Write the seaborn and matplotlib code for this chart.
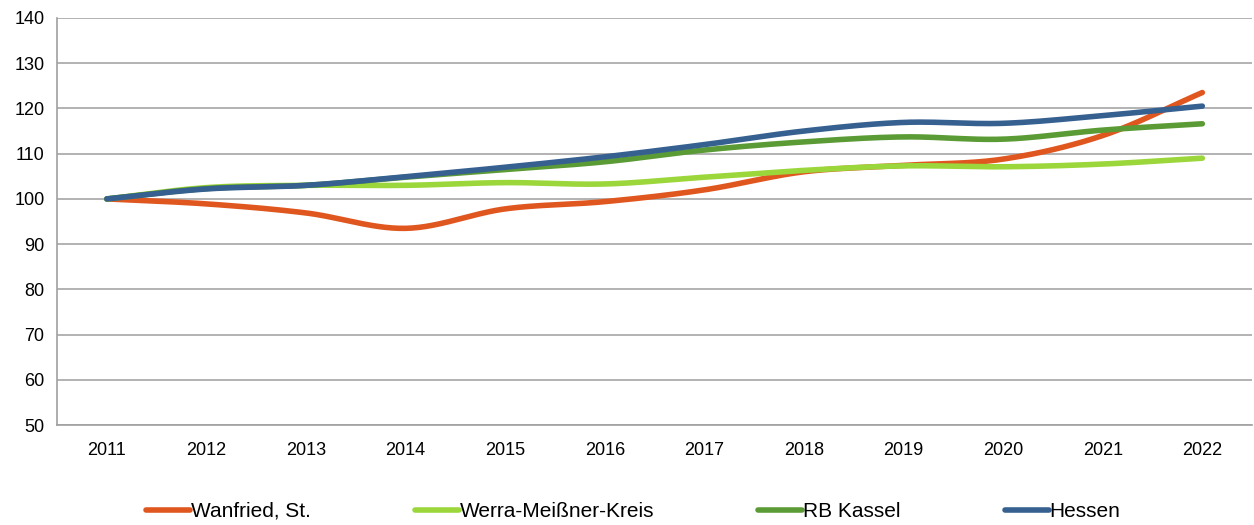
import numpy as np
import pandas as pd
import seaborn as sns
import matplotlib.pyplot as plt

# Index values (2011 = 100)
years = [2011, 2012, 2013, 2014, 2015, 2016, 2017, 2018, 2019, 2020, 2021, 2022]
wanfried = [100, 98.9, 96.9, 93.5, 97.8, 99.4, 102.0, 106.0, 107.4, 108.8, 114.0, 123.5]
werra = [100, 102.5, 103.0, 103.0, 103.6, 103.3, 104.8, 106.3, 107.3, 107.1, 107.7, 109.0]
rb_kassel = [100, 102.3, 103.0, 104.8, 106.5, 108.2, 110.8, 112.6, 113.7, 113.2, 115.2, 116.6]
hessen = [100, 102.2, 103.0, 104.9, 107.0, 109.3, 112.0, 115.0, 116.9, 116.7, 118.4, 120.5]

series = {
    "Wanfried, St.": wanfried,
    "Werra-Meißner-Kreis": werra,
    "RB Kassel": rb_kassel,
    "Hessen": hessen,
}
colors = ["#E0561F", "#9BD63A", "#5B9B35", "#356090"]


def smooth(y, steps=30):
    # Catmull-Rom curve through the points, like Excel's smoothed lines
    y = np.asarray(y, dtype=float)
    x = np.arange(len(y), dtype=float)
    p = np.concatenate([[2 * y[0] - y[1]], y, [2 * y[-1] - y[-2]]])
    xs, ys = [], []
    for i in range(len(y) - 1):
        t = np.linspace(0, 1, steps, endpoint=False)
        p0, p1, p2, p3 = p[i], p[i + 1], p[i + 2], p[i + 3]
        yy = 0.5 * ((2 * p1) + (-p0 + p2) * t + (2 * p0 - 5 * p1 + 4 * p2 - p3) * t ** 2
                    + (-p0 + 3 * p1 - 3 * p2 + p3) * t ** 3)
        xs.append(x[i] + t)
        ys.append(yy)
    xs.append([x[-1]])
    ys.append([y[-1]])
    return np.concatenate(xs), np.concatenate(ys)


rows = []
for name, vals in series.items():
    xs, ys = smooth(vals)
    rows.append(pd.DataFrame({"x": xs, "value": ys, "Region": name}))
df = pd.concat(rows, ignore_index=True)

sns.set_style("white")
plt.rcParams["font.family"] = ["Liberation Sans", "DejaVu Sans"]
plt.rcParams["text.color"] = "black"
plt.rcParams["xtick.labelcolor"] = "black"
plt.rcParams["ytick.labelcolor"] = "black"

fig = plt.figure(figsize=(12.54, 5.25), dpi=100)
ax = fig.add_axes([0.0455, 0.19, 0.953, 0.776])

sns.lineplot(data=df, x="x", y="value", hue="Region", palette=colors, linewidth=4,
             sort=False, estimator=None, legend=False, ax=ax, solid_capstyle="round")

ax.set_xlim(-0.5, len(years) - 0.5)
ax.set_ylim(50, 140)
ax.set_yticks(range(50, 141, 10))
ax.set_xticks(range(len(years)))
ax.set_xticklabels([str(y) for y in years])
ax.set_xticks(np.arange(-0.5, len(years), 1), minor=True)
ax.tick_params(axis="x", which="major", length=0, pad=12, labelsize=13, labelcolor="black")
ax.tick_params(axis="x", which="minor", length=5, color="#A0A0A0", direction="out")
ax.tick_params(axis="y", length=5, color="#A0A0A0", direction="out", labelsize=13, pad=4,
               labelcolor="black")
ax.yaxis.grid(True, color="#A6A6A6", linewidth=1.2)
ax.set_axisbelow(True)
for s in ["top", "right"]:
    ax.spines[s].set_visible(False)
for s in ["left", "bottom"]:
    ax.spines[s].set_color("#A0A0A0")
    ax.spines[s].set_linewidth(1.2)
ax.set_xlabel("")
ax.set_ylabel("")

handles = [plt.Line2D([], [], color=c, linewidth=4, solid_capstyle="round") for c in colors]
fig.legend(handles, list(series.keys()), loc="center", bbox_to_anchor=(0.505, 0.026), ncol=4,
           frameon=False, fontsize=15, handlelength=2.1, handletextpad=0.05, columnspacing=5.0,
           labelcolor="black")

fig.savefig("out.png", dpi=100)
